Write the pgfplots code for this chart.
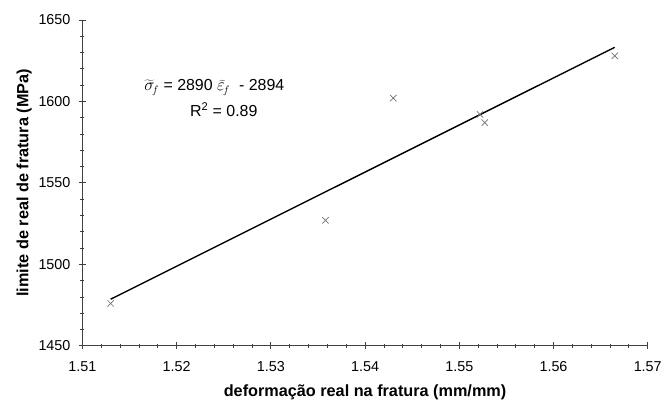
\documentclass[border=0pt]{standalone}
\usepackage{pgfplots}
\pgfplotsset{compat=1.18}
\usepackage{fontspec}
\setmainfont{Liberation Sans}
\begin{document}
\begin{tikzpicture}[x=1bp,y=1bp]
\begin{axis}[
  scale only axis,
  width=567.3bp, height=327bp,
  xmin=1.51, xmax=1.57, ymin=1450, ymax=1650,
  axis lines=left,
  axis line style={-, black!75, line width=0.8bp},
  xtick={1.51,1.52,...,1.57},
  ytick={1450,1500,...,1650},
  xticklabels={1.51,1.52,1.53,1.54,1.55,1.56,1.57},
  minor x tick num=4, minor y tick num=4,
  tick align=center,
  major tick length=7bp, minor tick length=4bp,
  every tick/.style={black!75, line width=0.8bp},
  /pgf/number format/assume math mode=true,
  /pgf/number format/1000 sep={},
  ticklabel style={font=\fontsize{14.4bp}{16bp}\selectfont},
  xticklabel style={yshift=-9bp},
  yticklabel style={xshift=-5bp},
  xlabel={\bfseries deformação real na fratura (mm/mm)},
  ylabel={\bfseries limite de real de fratura (MPa)},
  label style={font=\fontsize{16.3bp}{18bp}\selectfont},
  xlabel style={yshift=-6bp},
  ylabel style={yshift=0bp},
  clip=false,
]
\addplot[only marks, mark=x, mark size=4.5bp, draw=black!55, line width=0.7bp] coordinates {
 (1.5130,1476) (1.5358,1527) (1.5430,1602) (1.5522,1592) (1.5527,1587) (1.5665,1628)
};
\addplot[black, line width=1.4bp] coordinates {(1.5130,1478.6) (1.5665,1633.2)};
\node[font=\fontsize{16bp}{18bp}\selectfont] at (axis cs:1.5240,1608.5) {$\widetilde{\sigma}_{\!f}$ = 2890 $\widetilde{\varepsilon}_{\!f}$\ \ - 2894};
\node[font=\fontsize{16bp}{18bp}\selectfont] at (axis cs:1.5250,1595) {R\textsuperscript{2} = 0.89};
\end{axis}
\path[use as bounding box] (-82.7bp,-60bp) rectangle (582.3bp,347bp);
\end{tikzpicture}
\end{document}
